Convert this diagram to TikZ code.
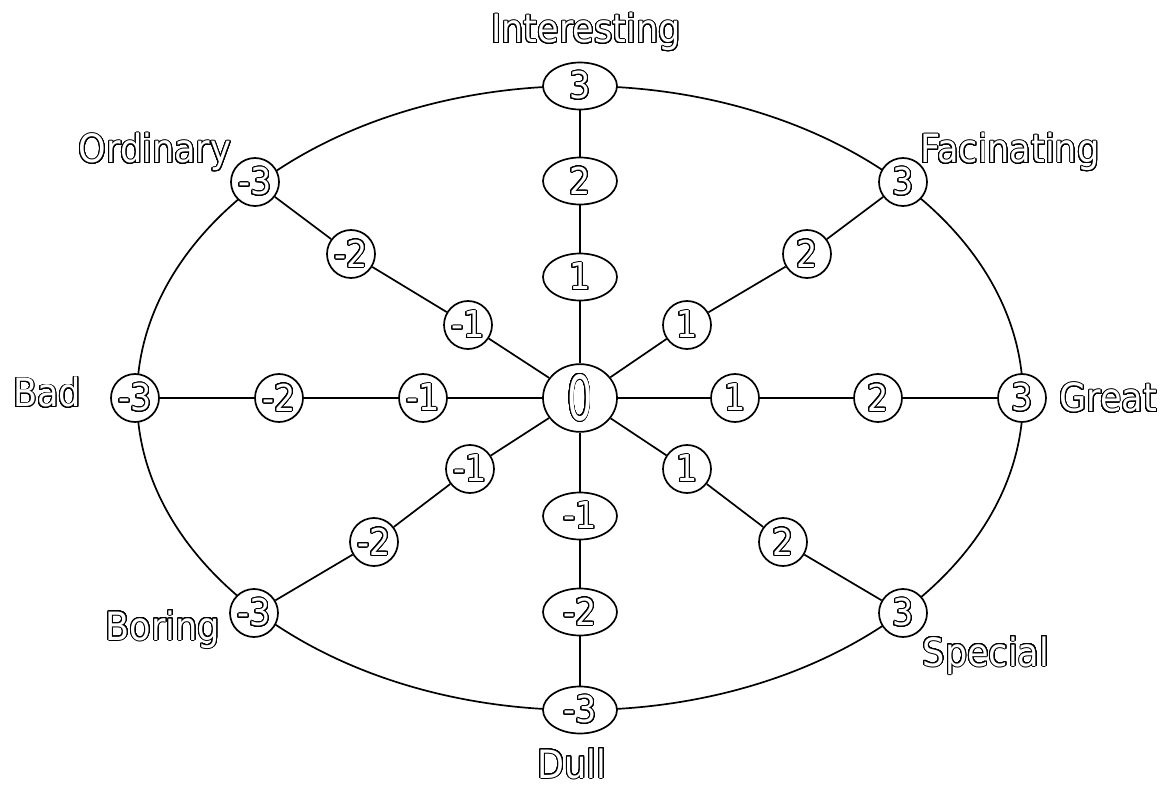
\documentclass[tikz,border=0pt]{standalone}
\usepackage{fontspec}
\setmainfont{DejaVu Sans Condensed}
\usepackage[copies]{contour}
\usetikzlibrary{shapes.geometric}

% hollow lettering: white glyphs with a thin black rim
\contourlength{1pt}
\contournumber{32}
\newcommand{\hollow}[1]{\contour{black}{\textcolor{white}{#1}}}

\tikzset{
  axis/.style={line width=1.7pt, line join=round},
  oval/.style={ellipse, draw, line width=1.7pt, fill=white, minimum width=74pt,
               minimum height=47pt, inner sep=0pt,
               font=\fontsize{37}{40}\selectfont},
  disc/.style={circle, draw, line width=1.7pt, fill=white, minimum size=48pt,
               inner sep=0pt, font=\fontsize{37}{40}\selectfont},
  word/.style={anchor=base, inner sep=0pt, font=\fontsize{39}{42}\selectfont},
}

\begin{document}
\begin{tikzpicture}[x=1pt, y=-1pt]
  \useasboundingbox (0,0) rectangle (1171,786);

  % outer ring
  \draw[axis] (580,398) ellipse [x radius=443, y radius=312];

  % centre
  \node[oval] (c) at (580,398) {\scalebox{0.72}[1]{\fontsize{62}{64}\selectfont\hollow{0}}};

  % vertical axis
  \node[oval] (n3) at (580,86)  {\hollow{3}};
  \node[oval] (n2) at (580,181) {\hollow{2}};
  \node[oval] (n1) at (580,277) {\hollow{1}};
  \node[oval] (s1) at (580,516) {\hollow{-1}};
  \node[oval] (s2) at (580,612) {\hollow{-2}};
  \node[oval] (s3) at (580,710) {\hollow{-3}};

  % horizontal axis
  \node[disc] (w3) at (135,398)  {\hollow{-3}};
  \node[disc] (w2) at (279,398)  {\hollow{-2}};
  \node[disc] (w1) at (423,398)  {\hollow{-1}};
  \node[disc] (e1) at (735,398)  {\hollow{1}};
  \node[disc] (e2) at (878,398)  {\hollow{2}};
  \node[disc] (e3) at (1022,398) {\hollow{3}};

  % upper left
  \node[disc] (nw3) at (255,182) {\hollow{-3}};
  \node[disc] (nw2) at (351,254) {\hollow{-2}};
  \node[disc] (nw1) at (468,325) {\hollow{-1}};
  % upper right
  \node[disc] (ne1) at (687,325) {\hollow{1}};
  \node[disc] (ne2) at (807,254) {\hollow{2}};
  \node[disc] (ne3) at (903,182) {\hollow{3}};
  % lower left
  \node[disc] (sw1) at (470,469) {\hollow{-1}};
  \node[disc] (sw2) at (374,542) {\hollow{-2}};
  \node[disc] (sw3) at (254,613) {\hollow{-3}};
  % lower right
  \node[disc] (se1) at (687,469) {\hollow{1}};
  \node[disc] (se2) at (783,542) {\hollow{2}};
  \node[disc] (se3) at (903,613) {\hollow{3}};

  % spokes
  \draw[axis] (c) -- (n1) -- (n2) -- (n3);
  \draw[axis] (c) -- (s1) -- (s2) -- (s3);
  \draw[axis] (c) -- (w1) -- (w2) -- (w3);
  \draw[axis] (c) -- (e1) -- (e2) -- (e3);
  \draw[axis] (c) -- (nw1) -- (nw2) -- (nw3);
  \draw[axis] (c) -- (ne1) -- (ne2) -- (ne3);
  \draw[axis] (c) -- (sw1) -- (sw2) -- (sw3);
  \draw[axis] (c) -- (se1) -- (se2) -- (se3);

  % pole names
  \node[word] (tInteresting) at (586,43)  {\hollow{Interesting}};
  \node[word] (tOrdinary)    at (155,163) {\hollow{Ordinary}};
  \node[word] (tFacinating)  at (1010,163){\hollow{Facinating}};
  \node[word] (tBad)         at (47,407)  {\hollow{Bad}};
  \node[word] (tGreat)       at (1108,412){\hollow{Great}};
  \node[word] (tBoring)      at (163,640) {\hollow{Boring}};
  \node[word] (tSpecial)     at (986,666) {\hollow{Special}};
  \node[word] (tDull)        at (572,778) {\hollow{Dull}};
\end{tikzpicture}
\end{document}
